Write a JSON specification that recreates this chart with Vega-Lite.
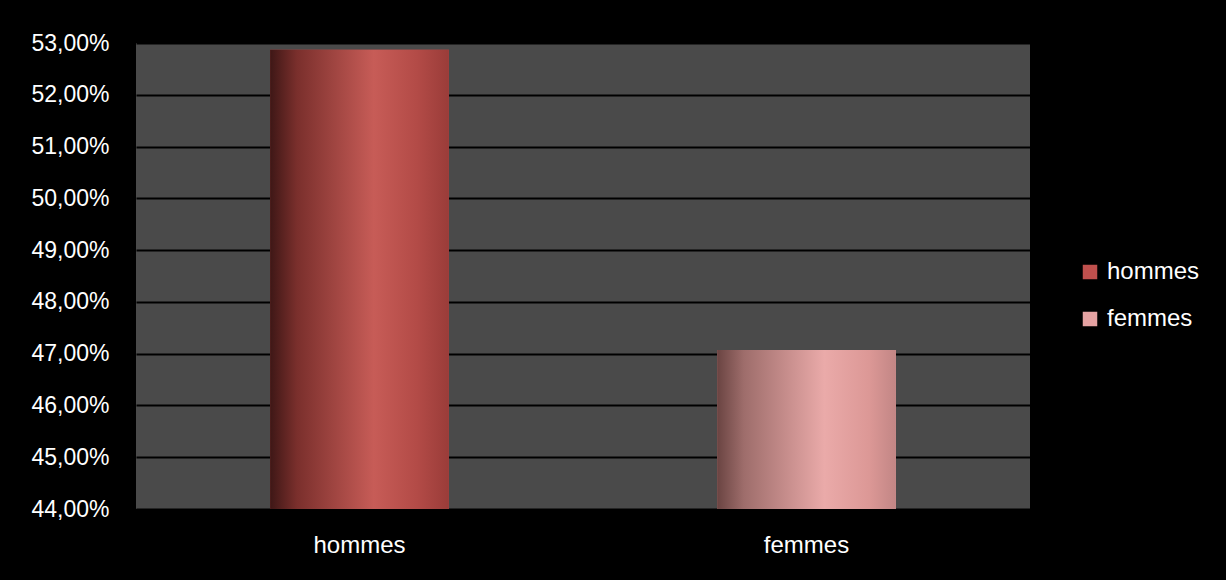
{
  "$schema": "https://vega.github.io/schema/vega-lite/v6.json",
  "width": 894,
  "height": 466,
  "autosize": {"type": "none"},
  "padding": {"left": 136, "top": 43, "right": 196, "bottom": 71},
  "background": "#000000",
  "config": {
    "view": {"fill": "#4a4a4a", "stroke": null},
    "font": "Liberation Sans"
  },
  "data": {
    "values": [
      {"sexe": "hommes", "pct": 52.87},
      {"sexe": "femmes", "pct": 47.07}
    ]
  },
  "encoding": {
    "x": {
      "field": "sexe",
      "type": "nominal",
      "sort": ["hommes", "femmes"],
      "scale": {"paddingInner": 0.6, "paddingOuter": 0.3},
      "axis": {
        "title": null,
        "labelAngle": 0,
        "labelColor": "#ffffff",
        "labelFontSize": 24,
        "ticks": false,
        "domain": false,
        "labelPadding": 24
      }
    },
    "y": {
      "field": "pct",
      "type": "quantitative",
      "scale": {"domain": [44, 53], "zero": false, "nice": false},
      "axis": {
        "title": null,
        "values": [44, 45, 46, 47, 48, 49, 50, 51, 52, 53],
        "labelExpr": "replace(format(datum.value, '.2f'), '.', ',') + '%'",
        "labelColor": "#ffffff",
        "labelFontSize": 23,
        "gridColor": "#000000",
        "gridWidth": 2,
        "domain": false,
        "ticks": false,
        "labelPadding": 27
      }
    }
  },
  "layer": [
    {
      "mark": {"type": "bar", "clip": true},
      "encoding": {
        "color": {
          "field": "sexe",
          "type": "nominal",
          "sort": ["hommes", "femmes"],
          "scale": {"domain": ["hommes", "femmes"], "range": ["#C0504D", "#E6A3A3"]},
          "legend": {
            "title": null,
            "orient": "none",
            "legendX": 942,
            "legendY": 217,
            "symbolType": "square",
            "symbolSize": 210,
            "symbolStrokeWidth": 0,
            "labelFontSize": 24,
            "labelColor": "#ffffff",
            "rowPadding": 23,
            "labelOffset": 5
          }
        }
      }
    },
    {
      "transform": [{"filter": "datum.sexe === 'hommes'"}],
      "mark": {
        "type": "bar",
        "clip": true,
        "fill": {
          "gradient": "linear",
          "x1": 0, "y1": 0, "x2": 1, "y2": 0,
          "stops": [
            {"offset": 0, "color": "#3e1716"},
            {"offset": 0.15, "color": "#7a2f2c"},
            {"offset": 0.58, "color": "#c75c57"},
            {"offset": 0.82, "color": "#b34b47"},
            {"offset": 1, "color": "#9a3c39"}
          ]
        }
      }
    },
    {
      "transform": [{"filter": "datum.sexe === 'femmes'"}],
      "mark": {
        "type": "bar",
        "clip": true,
        "fill": {
          "gradient": "linear",
          "x1": 0, "y1": 0, "x2": 1, "y2": 0,
          "stops": [
            {"offset": 0, "color": "#6a4442"},
            {"offset": 0.15, "color": "#9e6d6b"},
            {"offset": 0.6, "color": "#eaaaa9"},
            {"offset": 0.85, "color": "#dc9896"},
            {"offset": 1, "color": "#c28685"}
          ]
        }
      }
    }
  ]
}
